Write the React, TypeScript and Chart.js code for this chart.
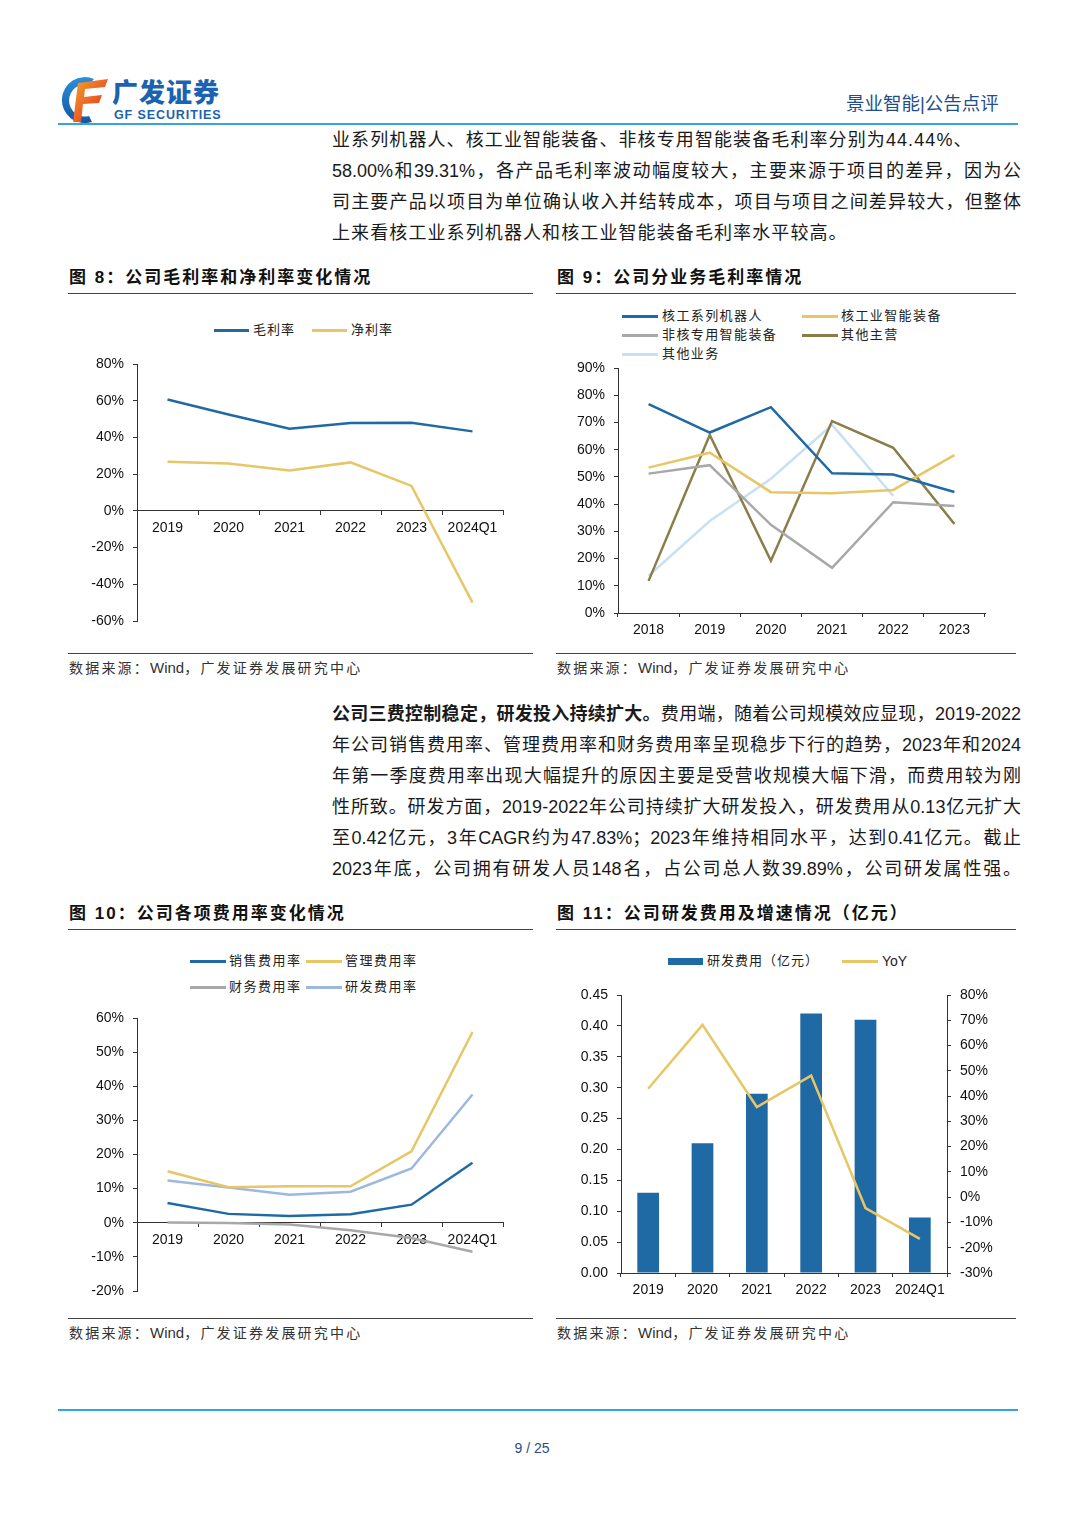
import React, { useEffect, useRef } from "react";
import { Chart, registerables } from "chart.js";

Chart.register(...registerables);

// ---------------- Data ----------------
const years8 = ["2019", "2020", "2021", "2022", "2023", "2024Q1"];
const names8 = ["毛利率", "净利率"];
const grossMargin = [60.7, 52.5, 44.7, 47.8, 48.0, 43.3];
const netMargin = [26.7, 25.8, 22.0, 26.4, 13.6, -50.0];
const range8 = { min: -60, max: 80, step: 20 };

const years9 = ["2018", "2019", "2020", "2021", "2022", "2023"];
const names9 = ["核工系列机器人", "核工业智能装备", "非核专用智能装备", "其他主营", "其他业务"];
const robotMargin = [76.7, 66.3, 75.6, 51.3, 50.9, 44.44];
const equipMargin = [53.4, 58.9, 44.4, 44.0, 45.2, 58.0];
const nonNuclearMargin = [51.2, 54.3, 32.4, 16.6, 40.7, 39.31];
const otherMainMargin = [11.8, 65.4, 19.2, 70.5, 60.7, 32.7];
const otherBizMargin = [13.7, 33.8, 49.3, 69.1, 43.0, null];
const range9 = { min: 0, max: 90, step: 10 };

const years10 = ["2019", "2020", "2021", "2022", "2023", "2024Q1"];
const names10 = ["销售费用率", "管理费用率", "财务费用率", "研发费用率"];
const salesRate = [5.8, 2.6, 2.0, 2.5, 5.3, 17.6];
const adminRate = [15.1, 10.4, 10.7, 10.7, 20.9, 55.9];
const financeRate = [0.1, -0.1, -0.5, -2.2, -4.5, -8.5];
const rdRate = [12.4, 10.3, 8.2, 9.1, 15.9, 37.6];
const range10 = { min: -20, max: 60, step: 10 };

const years11 = ["2019", "2020", "2021", "2022", "2023", "2024Q1"];
const names11 = ["研发费用（亿元）", "YoY"];
const rdExpense = [0.13, 0.21, 0.29, 0.42, 0.41, 0.09];
const rdYoY = [42.9, 68.2, 35.7, 48.1, -4.3, -16.5];
const range11L = { min: 0, max: 0.45, step: 0.05 };
const range11R = { min: -30, max: 80, step: 10 };

// ---------------- Styles ----------------
const FONT = '"Liberation Sans", Arial, "Noto Sans CJK SC", sans-serif';
const BLUE = "#1f6aa5";
const GOLD = "#e6c665";
const GRAY = "#a8a8a8";
const OLIVE = "#8b7d4a";
const LIGHTBLUE = "#c8e0f2";
const STEEL = "#9db8de";
const AXIS = "#333";
const TEXT = "#1a1a1a";

const pct = (v: number) => `${Math.round(v)}%`;

function yScale(r: any, fmt: (v: number) => string, width: number, position = "left") {
  return {
    type: "linear",
    position,
    min: r.min,
    max: r.max,
    afterFit: (s: any) => {
      s.width = width;
    },
    ticks: {
      stepSize: r.step,
      callback: (v: any) => fmt(Number(v)),
      color: "#111",
      font: { family: FONT, size: 14 },
      padding: 9,
      autoSkip: false,
    },
    grid: { drawOnChartArea: false, drawTicks: true, tickLength: 4, tickColor: AXIS, color: AXIS },
    border: { display: true, color: AXIS, width: 1 },
  };
}

function xScale(labels: string[], extra: any = {}) {
  return {
    type: "category",
    labels,
    offset: true,
    ticks: { color: "#111", font: { family: FONT, size: 14 }, padding: 5, maxRotation: 0, autoSkip: false },
    grid: { offset: true, drawOnChartArea: false, drawTicks: true, tickLength: 4, tickColor: AXIS, color: AXIS },
    border: { display: true, color: AXIS, width: 1 },
    ...extra,
  };
}

function baseOptions(padding: any, scales: any) {
  return {
    responsive: false,
    animation: false,
    layout: { padding },
    plugins: { legend: { display: false }, tooltip: { enabled: false }, title: { display: false } },
    elements: { point: { radius: 0 }, line: { tension: 0, borderWidth: 2.5 } },
    scales,
  };
}

const line = (label: string, data: any[], color: string, extra: any = {}) => ({
  type: "line",
  label,
  data,
  borderColor: color,
  backgroundColor: color,
  borderWidth: 2.5,
  pointRadius: 0,
  fill: false,
  tension: 0,
  ...extra,
});

// ---------------- Chart configs ----------------
const config8 = () => ({
  type: "line",
  data: {
    labels: years8,
    datasets: [line(names8[0], grossMargin, BLUE), line(names8[1], netMargin, GOLD)],
  },
  options: baseOptions(
    { left: 0, right: 30, top: 24, bottom: 19 },
    {
      x: xScale(years8, { position: { y: 0 } }),
      y: yScale(range8, pct, 69),
    }
  ),
});

const config9 = () => ({
  type: "line",
  data: {
    labels: years9,
    datasets: [
      line(names9[0], robotMargin, BLUE),
      line(names9[1], equipMargin, GOLD),
      line(names9[2], nonNuclearMargin, GRAY),
      line(names9[3], otherMainMargin, OLIVE),
      line(names9[4], otherBizMargin, LIGHTBLUE),
    ],
  },
  options: baseOptions(
    { left: 0, right: 30, top: 23, bottom: 5 },
    {
      x: xScale(years9, { afterFit: (s: any) => { s.height = 27; } }),
      y: yScale(range9, pct, 61),
    }
  ),
});

const config10 = () => ({
  type: "line",
  data: {
    labels: years10,
    datasets: [
      line(names10[0], salesRate, BLUE),
      line(names10[1], adminRate, GOLD),
      line(names10[2], financeRate, GRAY),
      line(names10[3], rdRate, STEEL),
    ],
  },
  options: baseOptions(
    { left: 0, right: 30, top: 23, bottom: 19 },
    {
      x: xScale(years10, { position: { y: 0 } }),
      y: yScale(range10, pct, 69),
    }
  ),
});

const config11 = () => ({
  type: "bar",
  data: {
    labels: years11,
    datasets: [
      line(names11[1], rdYoY, GOLD, { yAxisID: "y1", order: 0 }),
      {
        type: "bar",
        label: names11[0],
        data: rdExpense,
        yAxisID: "y",
        backgroundColor: BLUE,
        barPercentage: 0.4,
        categoryPercentage: 1,
        order: 1,
      },
    ],
  },
  options: baseOptions(
    { left: 0, right: 0, top: 25, bottom: 0 },
    {
      x: xScale(years11, { afterFit: (s: any) => { s.height = 27; } }),
      y: yScale(range11L, (v) => v.toFixed(2), 64),
      y1: yScale(range11R, pct, 68, "right"),
    }
  ),
});

// ---------------- Components ----------------
function ChartBox({ left, top, width, height, make }: any) {
  const ref = useRef<HTMLCanvasElement>(null);
  useEffect(() => {
    const c = new Chart(ref.current as HTMLCanvasElement, make());
    return () => c.destroy();
  }, []);
  return (
    <canvas
      ref={ref}
      width={width}
      height={height}
      style={{ position: "absolute", left, top, width, height }}
    />
  );
}

function LegLine({ x1, x2, tx, y, color, label, size = 13, ls = 1, thick = 3 }: any) {
  return (
    <>
      <div style={{ position: "absolute", left: x1, top: y - thick / 2, width: x2 - x1, height: thick, background: color }} />
      <div
        style={{
          position: "absolute",
          left: tx,
          top: y - 10,
          height: 20,
          lineHeight: "20px",
          fontSize: size,
          letterSpacing: ls,
          fontFamily: FONT,
          color: "#222",
          whiteSpace: "nowrap",
        }}
      >
        {label}
      </div>
    </>
  );
}

function ParaLine({ y, justify, children }: any) {
  return (
    <div
      style={{
        position: "absolute",
        left: 332,
        top: y - 15.5,
        width: 689,
        height: 31,
        lineHeight: "31px",
        fontSize: 18,
        fontFamily: FONT,
        color: TEXT,
        whiteSpace: "nowrap",
        textAlign: justify ? "justify" : "left",
        textAlignLast: justify ? "justify" : "left",
        letterSpacing: justify ? 0 : 1.1,
      }}
    >
      {children}
    </div>
  );
}

function Title({ x, y, w, text }: any) {
  return (
    <>
      <div
        style={{
          position: "absolute",
          left: x,
          top: y - 12,
          height: 24,
          lineHeight: "24px",
          fontSize: 17,
          fontWeight: 700,
          letterSpacing: 2,
          fontFamily: FONT,
          color: "#111",
          whiteSpace: "nowrap",
        }}
      >
        {text}
      </div>
      <div style={{ position: "absolute", left: x - 1, top: y + 15, width: w, height: 1, background: "#444" }} />
    </>
  );
}

function Source({ x, y, w }: any) {
  return (
    <>
      <div style={{ position: "absolute", left: x - 1, top: y - 15, width: w, height: 1, background: "#444" }} />
      <div
        style={{
          position: "absolute",
          left: x,
          top: y - 10,
          height: 20,
          lineHeight: "20px",
          fontSize: 14,
          letterSpacing: 2.2,
          fontFamily: FONT,
          color: "#333",
          whiteSpace: "nowrap",
        }}
      >
        数据来源：<span style={{ letterSpacing: 0, fontSize: 15 }}>Wind</span>，广发证券发展研究中心
      </div>
    </>
  );
}

function Logo() {
  return (
    <>
      <svg style={{ position: "absolute", left: 58, top: 74 }} width={52} height={52} viewBox="0 0 52 52">
        <defs>
          <linearGradient id="gfRed" x1="0" y1="0" x2="1" y2="1">
            <stop offset="0" stopColor="#f5a22c" />
            <stop offset="1" stopColor="#e2261e" />
          </linearGradient>
          <linearGradient id="gfBlue" x1="0" y1="0" x2="0" y2="1">
            <stop offset="0" stopColor="#2b8fda" />
            <stop offset="1" stopColor="#15569f" />
          </linearGradient>
        </defs>
        <path d="M36 5 A23 23 0 1 0 34 48 L31 42 A16 16 0 1 1 31 11 Z" fill="url(#gfBlue)" />
        <path d="M20 9 L50 5 L47 13 L27 15 L26 23 L44 21 L41 29 L25 30 L23 48 L15 48 Z" fill="url(#gfRed)" />
      </svg>
      <div
        style={{
          position: "absolute",
          left: 112,
          top: 75,
          height: 32,
          lineHeight: "32px",
          fontSize: 26,
          fontWeight: 900,
          letterSpacing: 1,
          color: "#1b62b0",
          fontFamily: '"Noto Sans CJK SC", sans-serif',
          whiteSpace: "nowrap",
        }}
      >
        广发证券
      </div>
      <div
        style={{
          position: "absolute",
          left: 114,
          top: 108,
          height: 14,
          lineHeight: "14px",
          fontSize: 12.5,
          fontWeight: 700,
          letterSpacing: 0.9,
          color: "#1b62b0",
          fontFamily: FONT,
          whiteSpace: "nowrap",
        }}
      >
        GF SECURITIES
      </div>
    </>
  );
}

export default function App() {
  return (
    <div
      style={{
        position: "absolute",
        left: 0,
        top: 0,
        width: 1080,
        height: 1527,
        background: "#fff",
        overflow: "hidden",
        fontFamily: FONT,
      }}
    >
      {/* Header */}
      <Logo />
      <div
        style={{
          position: "absolute",
          left: 846,
          top: 92,
          height: 24,
          lineHeight: "24px",
          fontSize: 18.5,
          color: "#1f4e8c",
          fontFamily: FONT,
          whiteSpace: "nowrap",
        }}
      >
        景业智能|公告点评
      </div>
      <div style={{ position: "absolute", left: 58, top: 123, width: 960, height: 2, background: "#3aa3d9" }} />

      {/* Paragraph 1 */}
      <ParaLine y={140}>业系列机器人、核工业智能装备、非核专用智能装备毛利率分别为44.44%、</ParaLine>
      <ParaLine y={171} justify>58.00%和39.31%，各产品毛利率波动幅度较大，主要来源于项目的差异，因为公</ParaLine>
      <ParaLine y={202} justify>司主要产品以项目为单位确认收入并结转成本，项目与项目之间差异较大，但整体</ParaLine>
      <ParaLine y={233}>上来看核工业系列机器人和核工业智能装备毛利率水平较高。</ParaLine>

      {/* Figure 8 */}
      <Title x={69} y={278} w={465} text="图 8：公司毛利率和净利率变化情况" />
      <LegLine x1={214} x2={249} tx={253} y={330} color={BLUE} label={names8[0]} />
      <LegLine x1={312} x2={347} tx={351} y={330} color={GOLD} label={names8[1]} />
      <ChartBox left={68} top={340} width={465} height={300} make={config8} />
      <Source x={69} y={668} w={465} />

      {/* Figure 9 */}
      <Title x={557} y={278} w={460} text="图 9：公司分业务毛利率情况" />
      <LegLine x1={622} x2={658} tx={662} y={316} color={BLUE} label={names9[0]} ls={1.4} />
      <LegLine x1={802} x2={838} tx={841} y={316} color={GOLD} label={names9[1]} ls={1.4} />
      <LegLine x1={622} x2={658} tx={662} y={335} color={GRAY} label={names9[2]} ls={1.4} />
      <LegLine x1={802} x2={838} tx={841} y={335} color={OLIVE} label={names9[3]} ls={1.4} />
      <LegLine x1={622} x2={658} tx={662} y={354} color={LIGHTBLUE} label={names9[4]} ls={1.4} />
      <ChartBox left={557} top={345} width={458} height={300} make={config9} />
      <Source x={557} y={668} w={460} />

      {/* Paragraph 2 */}
      <ParaLine y={714} justify>
        <b>公司三费控制稳定，研发投入持续扩大。</b>费用端，随着公司规模效应显现，2019-2022
      </ParaLine>
      <ParaLine y={745} justify>年公司销售费用率、管理费用率和财务费用率呈现稳步下行的趋势，2023年和2024</ParaLine>
      <ParaLine y={776} justify>年第一季度费用率出现大幅提升的原因主要是受营收规模大幅下滑，而费用较为刚</ParaLine>
      <ParaLine y={807} justify>性所致。研发方面，2019-2022年公司持续扩大研发投入，研发费用从0.13亿元扩大</ParaLine>
      <ParaLine y={838} justify>至0.42亿元，3年CAGR约为47.83%；2023年维持相同水平，达到0.41亿元。截止</ParaLine>
      <ParaLine y={869} justify>2023年底，公司拥有研发人员148名，占公司总人数39.89%，公司研发属性强。</ParaLine>

      {/* Figure 10 */}
      <Title x={69} y={914} w={465} text="图 10：公司各项费用率变化情况" />
      <LegLine x1={190} x2={226} tx={229} y={961} color={BLUE} label={names10[0]} ls={1.5} />
      <LegLine x1={306} x2={342} tx={345} y={961} color={GOLD} label={names10[1]} ls={1.5} />
      <LegLine x1={190} x2={226} tx={229} y={987} color={GRAY} label={names10[2]} ls={1.5} />
      <LegLine x1={306} x2={342} tx={345} y={987} color={STEEL} label={names10[3]} ls={1.5} />
      <ChartBox left={68} top={995} width={465} height={315} make={config10} />
      <Source x={69} y={1333} w={465} />

      {/* Figure 11 */}
      <Title x={557} y={914} w={460} text="图 11：公司研发费用及增速情况（亿元）" />
      <div style={{ position: "absolute", left: 668, top: 957.5, width: 35, height: 7, background: BLUE }} />
      <div
        style={{
          position: "absolute",
          left: 707,
          top: 951,
          height: 20,
          lineHeight: "20px",
          fontSize: 13,
          letterSpacing: 1,
          color: "#222",
          whiteSpace: "nowrap",
        }}
      >
        {names11[0]}
      </div>
      <LegLine x1={842} x2={878} tx={882} y={961} color={GOLD} label={names11[1]} size={14} ls={0} />
      <ChartBox left={557} top={970} width={458} height={330} make={config11} />
      <Source x={557} y={1333} w={460} />

      {/* Footer */}
      <div style={{ position: "absolute", left: 58, top: 1409, width: 960, height: 2, background: "#33a6d9" }} />
      <div
        style={{
          position: "absolute",
          left: 0,
          width: 1064,
          top: 1438,
          height: 20,
          lineHeight: "20px",
          fontSize: 14,
          textAlign: "center",
          color: "#1f4e8c",
          fontFamily: FONT,
        }}
      >
        9 / 25
      </div>
    </div>
  );
}
